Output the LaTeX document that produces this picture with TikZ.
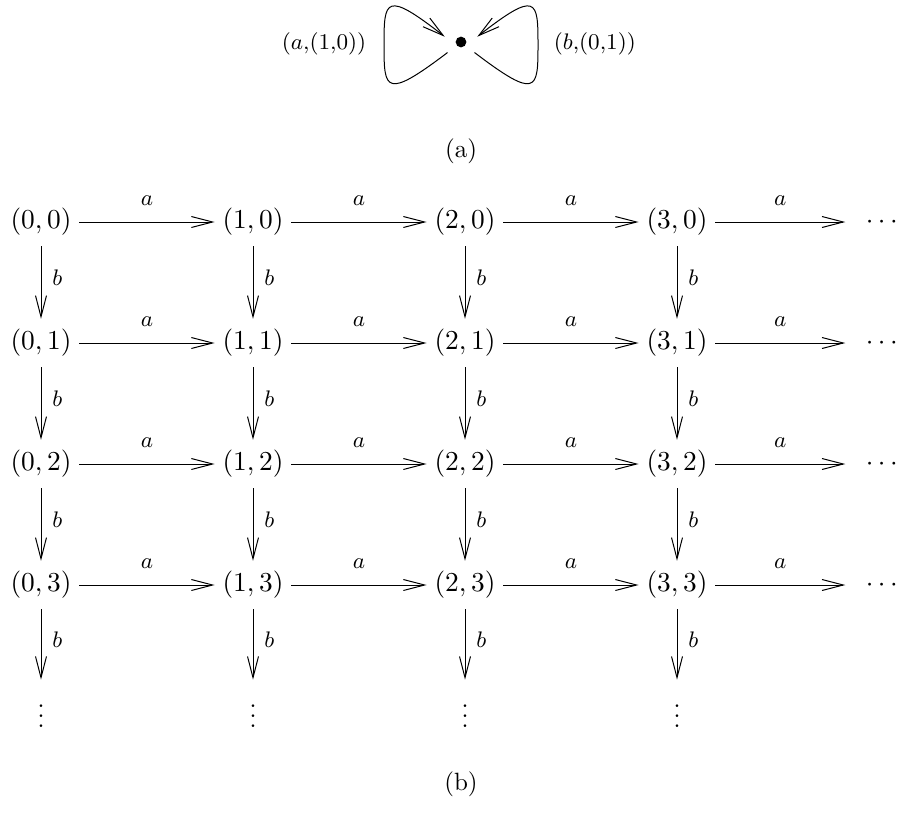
\documentclass[tikz,border=0pt]{standalone}
\usepackage{amsmath}
\usepackage{tikz}
\usetikzlibrary{arrows.meta,positioning}

\begin{document}
\begin{tikzpicture}[x=0.4pt, y=-0.4pt,
    arr/.style={-{Straight Barb[length=8.5pt,width=4.4pt]}, thin},
    cell/.style={font=\fontsize{11}{13}\selectfont, inner xsep=3pt, inner ysep=4pt},
    hdotsnode/.style={font=\fontsize{11}{13}\selectfont, inner xsep=8pt, inner ysep=4pt},
    vdotsnode/.style={font=\fontsize{11}{13}\selectfont, inner xsep=3pt, inner ysep=4pt},
    lab/.style={font=\fontsize{9}{11}\selectfont},
    looplab/.style={font=\fontsize{9}{11}\selectfont},
    dot/.style={circle, fill, inner sep=0pt, minimum size=4.3pt, outer sep=4.7pt}]
    \useasboundingbox (0,0) rectangle (904,813);
    % Bouquet with two loops
    \node[dot] (pt) at (461,42) {};
    \draw[arr] (pt.218) .. controls (385,100) and (384,90) .. (384,45)
        .. controls (384,0) and (385,-10) .. (pt.162);
    \draw[arr] (pt.322) .. controls (537,100) and (538,90) .. (538,45)
        .. controls (538,0) and (537,-10) .. (pt.18);
    \node[looplab, anchor=east] (la) at (375,44) {($a$,(1,0))};
    \node[looplab, anchor=west] (lb) at (545,44) {($b$,(0,1))};
    % Captions
    \node (capa) at (461,151) {(a)};
    \node (capb) at (461,784) {(b)};
    % Grid of pairs
    \foreach \c in {0,...,3} {
        \foreach \r in {0,...,3}
            \node[cell] (v\c\r) at (41+212*\c, 222+121*\r) {$(\c,\r)$};
        \node[vdotsnode] (vd\c) at (41+212*\c, 709) {$\vdots$};
    }
    \foreach \r in {0,...,3}
        \node[hdotsnode] (hd\r) at (884, 222+121*\r) {$\cdots$};
    % Edges labelled a
    \foreach \r in {0,...,3} {
        \foreach \c [count=\n] in {0,1,2}
            \draw[arr] (v\c\r) -- node[lab, above=3pt] {$a$} (v\n\r);
        \draw[arr] (v3\r) -- node[lab, above=3pt] {$a$} (hd\r);
    }
    % Edges labelled b
    \foreach \c in {0,...,3} {
        \foreach \r [count=\n] in {0,1,2}
            \draw[arr] (v\c\r) -- node[lab, right=1pt, pos=0.43] {$b$} (v\c\n);
        \draw[arr] (v\c3) -- node[lab, right=1pt, pos=0.43] {$b$} (vd\c);
    }
\end{tikzpicture}
\end{document}
